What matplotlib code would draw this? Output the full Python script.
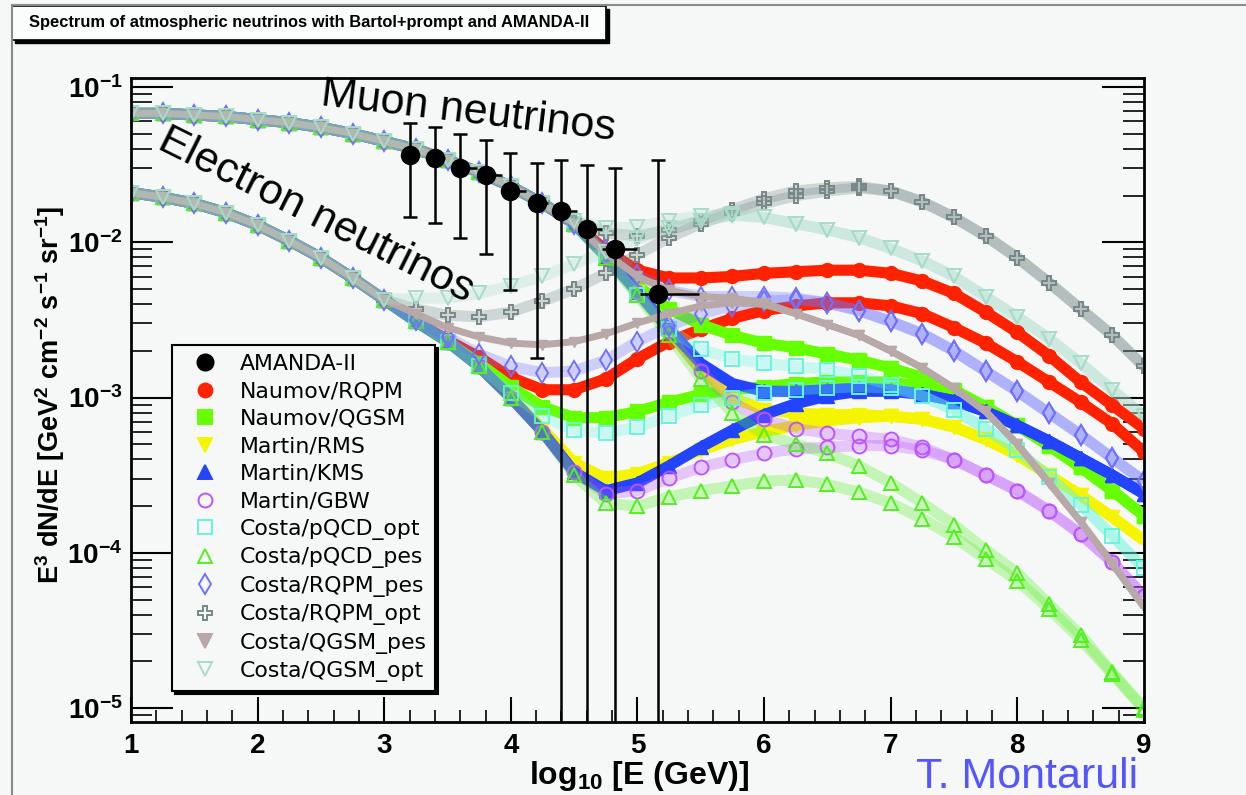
import numpy as np
import matplotlib
matplotlib.use("Agg")
import matplotlib.pyplot as plt
from matplotlib.lines import Line2D
from matplotlib.patches import Rectangle
from matplotlib.ticker import FixedLocator, MultipleLocator, LogLocator, NullFormatter

plt.rcParams['font.family'] = ['Liberation Sans', 'DejaVu Sans']
plt.rcParams['mathtext.fontset'] = 'custom'
plt.rcParams['mathtext.rm'] = 'Liberation Sans'
plt.rcParams['mathtext.bf'] = 'Liberation Sans:bold'
plt.rcParams['mathtext.it'] = 'Liberation Sans:italic'

# log10(E/GeV) grids: shared conventional part, then the part where the models split
x_low = [1.0, 1.25, 1.5, 1.75, 2.0, 2.25, 2.5, 2.75, 3.0]
x_hi = [3.25, 3.5, 3.75, 4.0, 4.25, 4.5, 4.75, 5.0, 5.25, 5.5, 5.75, 6.0,
        6.25, 6.5, 6.75, 7.0, 7.25, 7.5, 7.75, 8.0, 8.25, 8.5, 8.75, 9.0]

# log10 of E^3 dN/dE
conv_mu_low = [-1.17, -1.17, -1.18, -1.19, -1.21, -1.23, -1.26, -1.30, -1.35]
conv_e_low = [-1.68, -1.71, -1.75, -1.81, -1.89, -1.99, -2.10, -2.23, -2.37]

naumov_rqpm_mu = [-1.40, -1.47, -1.55, -1.64, -1.75, -1.88, -2.05, -2.18, -2.23, -2.23, -2.22, -2.20,
                  -2.19, -2.18, -2.18, -2.20, -2.25, -2.33, -2.45, -2.58, -2.73, -2.90, -3.05, -3.20]
naumov_rqpm_e = [-2.51, -2.63, -2.74, -2.87, -2.95, -2.95, -2.88, -2.75, -2.64, -2.56, -2.49, -2.44,
                 -2.41, -2.39, -2.39, -2.41, -2.46, -2.55, -2.65, -2.77, -2.90, -3.03, -3.17, -3.35]
naumov_qgsm_mu = [-1.40, -1.47, -1.55, -1.64, -1.75, -1.88, -2.08, -2.28, -2.43, -2.53, -2.60, -2.65,
                  -2.68, -2.72, -2.76, -2.81, -2.87, -2.95, -3.06, -3.18, -3.31, -3.45, -3.60, -3.76]
naumov_qgsm_e = [-2.51, -2.64, -2.78, -2.93, -3.06, -3.13, -3.13, -3.09, -3.03, -2.98, -2.95, -2.93,
                 -2.91, -2.90, -2.90, -2.90, -2.93, -2.98, -3.06, -3.18, -3.31, -3.45, -3.60, -3.76]
martin_rms_mu = [-1.40, -1.47, -1.55, -1.64, -1.75, -1.88, -2.09, -2.32, -2.57, -2.82, -3.00, -3.08,
                 -3.10, -3.11, -3.11, -3.12, -3.14, -3.19, -3.27, -3.37, -3.50, -3.63, -3.77, -3.92]
martin_rms_e = [-2.51, -2.64, -2.80, -3.00, -3.20, -3.42, -3.52, -3.49, -3.42, -3.34, -3.27, -3.22,
                -3.18, -3.15, -3.13, -3.12, -3.14, -3.19, -3.27, -3.37, -3.50, -3.63, -3.77, -3.92]
martin_kms_mu = [-1.40, -1.47, -1.55, -1.64, -1.75, -1.88, -2.09, -2.32, -2.56, -2.78, -2.91, -2.96,
                 -2.96, -2.95, -2.94, -2.95, -2.98, -3.02, -3.09, -3.18, -3.28, -3.39, -3.50, -3.62]
martin_kms_e = [-2.51, -2.64, -2.80, -3.00, -3.22, -3.48, -3.60, -3.55, -3.44, -3.32, -3.21, -3.11,
                -3.04, -2.99, -2.96, -2.96, -2.98, -3.02, -3.09, -3.18, -3.28, -3.39, -3.50, -3.62]
martin_gbw_mu = [-1.40, -1.47, -1.55, -1.64, -1.75, -1.88, -2.09, -2.32, -2.57, -2.83, -3.03, -3.14,
                 -3.20, -3.23, -3.25, -3.27, -3.32, -3.40, -3.50, -3.60, -3.73, -3.88, -4.06, -4.28]
martin_gbw_e = [-2.51, -2.64, -2.80, -3.00, -3.22, -3.48, -3.62, -3.60, -3.52, -3.45, -3.40, -3.36,
                -3.33, -3.32, -3.31, -3.31, -3.34, -3.40, -3.50, -3.60, -3.73, -3.88, -4.06, -4.28]
costa_pqcd_opt_mu = [-1.40, -1.47, -1.55, -1.64, -1.75, -1.88, -2.10, -2.34, -2.56, -2.69, -2.75, -2.78,
                     -2.80, -2.82, -2.86, -2.92, -2.99, -3.08, -3.20, -3.34, -3.51, -3.69, -3.89, -4.10]
costa_pqcd_opt_e = [-2.51, -2.64, -2.80, -2.97, -3.12, -3.21, -3.23, -3.19, -3.12, -3.05, -3.00, -2.97,
                    -2.95, -2.94, -2.93, -2.94, -2.99, -3.08, -3.20, -3.34, -3.51, -3.69, -3.89, -4.10]
costa_pqcd_pes_mu = [-1.40, -1.47, -1.55, -1.64, -1.75, -1.88, -2.10, -2.34, -2.60, -2.88, -3.10, -3.24,
                     -3.30, -3.36, -3.44, -3.55, -3.68, -3.82, -3.98, -4.13, -4.33, -4.53, -4.77, -5.00]
costa_pqcd_pes_e = [-2.51, -2.64, -2.80, -3.00, -3.22, -3.50, -3.68, -3.70, -3.64, -3.60, -3.57, -3.54,
                    -3.53, -3.56, -3.61, -3.68, -3.78, -3.90, -4.04, -4.18, -4.36, -4.56, -4.78, -5.01]
costa_rqpm_pes_mu = [-1.40, -1.47, -1.55, -1.64, -1.75, -1.88, -2.05, -2.21, -2.31, -2.35, -2.35, -2.35,
                     -2.36, -2.39, -2.44, -2.51, -2.59, -2.70, -2.83, -2.96, -3.10, -3.24, -3.39, -3.54]
costa_rqpm_pes_e = [-2.50, -2.61, -2.72, -2.80, -2.84, -2.83, -2.76, -2.64, -2.54, -2.46, -2.41, -2.38,
                    -2.37, -2.39, -2.44, -2.51, -2.59, -2.70, -2.83, -2.96, -3.10, -3.24, -3.39, -3.54]
costa_rqpm_opt_mu = [-1.40, -1.47, -1.55, -1.64, -1.75, -1.86, -1.94, -1.96, -1.92, -1.86, -1.79, -1.72,
                     -1.67, -1.65, -1.64, -1.67, -1.74, -1.84, -1.96, -2.10, -2.26, -2.43, -2.60, -2.80]
costa_rqpm_opt_e = [-2.43, -2.47, -2.48, -2.45, -2.38, -2.30, -2.20, -2.08, -1.97, -1.88, -1.81, -1.75,
                    -1.70, -1.67, -1.65, -1.67, -1.74, -1.84, -1.96, -2.10, -2.26, -2.43, -2.60, -2.80]
costa_qgsm_pes_mu = [-1.40, -1.47, -1.55, -1.64, -1.75, -1.88, -2.07, -2.22, -2.31, -2.35, -2.36, -2.39,
                     -2.46, -2.53, -2.60, -2.70, -2.81, -2.94, -3.09, -3.30, -3.55, -3.80, -4.07, -4.35]
costa_qgsm_pes_e = [-2.46, -2.55, -2.61, -2.65, -2.66, -2.64, -2.59, -2.52, -2.46, -2.41, -2.39, -2.40,
                    -2.46, -2.53, -2.60, -2.70, -2.81, -2.94, -3.09, -3.30, -3.55, -3.80, -4.07, -4.35]
costa_qgsm_opt_mu = [-1.40, -1.47, -1.55, -1.64, -1.75, -1.86, -1.91, -1.90, -1.86, -1.83, -1.82, -1.84,
                     -1.88, -1.92, -1.97, -2.04, -2.12, -2.22, -2.35, -2.48, -2.62, -2.78, -2.95, -3.12]
costa_qgsm_opt_e = [-2.36, -2.36, -2.33, -2.28, -2.22, -2.14, -2.06, -1.98, -1.91, -1.86, -1.83, -1.84,
                    -1.88, -1.92, -1.97, -2.04, -2.12, -2.22, -2.35, -2.48, -2.62, -2.78, -2.95, -3.12]

# AMANDA-II unfolded points
amanda_x = [3.20, 3.40, 3.60, 3.80, 3.99, 4.21, 4.40, 4.60, 4.82, 5.16]
amanda_y = [3.65e-2, 3.49e-2, 3.01e-2, 2.71e-2, 2.14e-2, 1.79e-2, 1.59e-2, 1.22e-2, 9.0e-3, 4.65e-3]
amanda_up = [5.86e-2, 5.52e-2, 4.97e-2, 4.56e-2, 3.76e-2, 3.24e-2, 3.39e-2, 3.15e-2, 3.01e-2, 3.39e-2]
amanda_dn = [1.46e-2, 1.33e-2, 1.06e-2, 8.4e-3, 4.9e-3, 1.8e-3, 1e-9, 1e-9, 1e-9, 1e-9]
amanda_xl = [0.05, 0.05, 0.05, 0.05, 0.05, 0.05, 0.05, 0.05, 0.10, 0.14]
amanda_xr = [0.05, 0.08, 0.13, 0.13, 0.13, 0.08, 0.12, 0.12, 0.18, 0.33]

models = ['Naumov/RQPM', 'Naumov/QGSM', 'Martin/RMS', 'Martin/KMS', 'Martin/GBW',
          'Costa/pQCD_opt', 'Costa/pQCD_pes', 'Costa/RQPM_pes', 'Costa/RQPM_opt',
          'Costa/QGSM_pes', 'Costa/QGSM_opt']
model_mu = [naumov_rqpm_mu, naumov_qgsm_mu, martin_rms_mu, martin_kms_mu, martin_gbw_mu,
            costa_pqcd_opt_mu, costa_pqcd_pes_mu, costa_rqpm_pes_mu, costa_rqpm_opt_mu,
            costa_qgsm_pes_mu, costa_qgsm_opt_mu]
model_e = [naumov_rqpm_e, naumov_qgsm_e, martin_rms_e, martin_kms_e, martin_gbw_e,
           costa_pqcd_opt_e, costa_pqcd_pes_e, costa_rqpm_pes_e, costa_rqpm_opt_e,
           costa_qgsm_pes_e, costa_qgsm_opt_e]
colors = ['#ff2200', '#66ff00', '#f5f500', '#2244ff', '#bb55ff',
          '#66f5dd', '#55ee22', '#7070ff', '#788888', '#b8a8a8', '#a8dcc8']
markers = ['o', 's', 'v', '^', 'o', 's', '^', 'd', 'P', 'v', 'v']
filled = [True, True, True, True, False, False, False, False, False, True, False]
band_w = [8, 8, 8, 8, 8, 8, 8, 8, 8, 5, 8]
mark_s = [10, 10, 10, 10, 10, 10, 10, 10, 10, 7, 10]

bg = '#f6f8f8'
fig = plt.figure(figsize=(12.46, 7.95), dpi=100, facecolor=bg)
ax = fig.add_axes([0.1051, 0.0918, 0.8130, 0.8101], facecolor=bg)

x_all = np.concatenate([x_low, x_hi])
for mu, e, c, m, f, lw, ms in zip(model_mu, model_e, colors, markers, filled, band_w, mark_s):
    for low, hi in ((conv_mu_low, mu), (conv_e_low, e)):
        y = 10.0 ** np.concatenate([low, hi])
        if f:
            ax.plot(x_all, y, '-', color=c, lw=lw, solid_capstyle='butt', zorder=2)
            ax.plot(x_all, y, ls='none', marker=m, ms=ms, mfc=c, mec=c, zorder=2)
        else:
            ax.plot(x_all, y, '-', color=c, lw=lw, alpha=0.3, solid_capstyle='butt', zorder=2)
            ax.plot(x_all, y, ls='none', marker=m, ms=ms, mfc='none', mec=c, mew=1.4, zorder=2)

ay = np.array(amanda_y)
ax.errorbar(amanda_x, ay, yerr=[ay - np.array(amanda_dn), np.array(amanda_up) - ay],
            fmt='none', ecolor='black', elinewidth=1.8, capsize=5, capthick=1.8, zorder=5)
ax.errorbar(amanda_x, ay, xerr=[amanda_xl, amanda_xr], fmt='o', color='black',
            ms=13, elinewidth=1.8, capsize=0, zorder=6)

ax.set_xlim(1, 9)
ax.set_yscale('log')
ax.set_ylim(10 ** -5.09, 10 ** -0.942)

ax.set_xticks(range(1, 10))
ax.set_xticklabels([str(i) for i in range(1, 10)], fontsize=20, fontweight='bold')
ax.xaxis.set_minor_locator(MultipleLocator(0.2))
ax.yaxis.set_major_locator(FixedLocator([1e-5, 1e-4, 1e-3, 1e-2, 1e-1]))
ax.set_yticklabels([r'$\mathbf{10^{-5}}$', r'$\mathbf{10^{-4}}$', r'$\mathbf{10^{-3}}$',
                    r'$\mathbf{10^{-2}}$', r'$\mathbf{10^{-1}}$'], fontsize=20)
ax.yaxis.set_minor_locator(LogLocator(base=10, subs=np.arange(2, 10), numticks=20))
ax.yaxis.set_minor_formatter(NullFormatter())
ax.tick_params(axis='x', which='major', direction='in', length=18, width=1.5, pad=8, top=False)
ax.tick_params(axis='x', which='minor', direction='in', length=9, width=1.2, top=False)
ax.tick_params(axis='y', which='major', direction='in', length=30, width=1.5, pad=6, right=True)
ax.tick_params(axis='y', which='minor', direction='in', length=15, width=1.2, right=True)
for s in ax.spines.values():
    s.set_linewidth(2)

ax.set_xlabel(r'$\mathbf{log_{10}\ [E\ (GeV)]}$', fontsize=23)
ax.xaxis.set_label_coords(0.502, -0.057)
ax.set_ylabel(r'$\mathbf{E^{3}\ dN/dE\ [GeV^{2}\ cm^{-2}\ s^{-1}\ sr^{-1}]}$', fontsize=19.5)
ax.yaxis.set_label_coords(-0.08, 0.508)
ax.yaxis.label.set_va('center')

ax.text(2.49, 10 ** -1.116, 'Muon neutrinos', fontsize=31, rotation=-6.8,
        rotation_mode='anchor', ha='left', va='baseline', zorder=7)
ax.text(1.197, 10 ** -1.393, 'Electron neutrinos', fontsize=31, rotation=-26.5,
        rotation_mode='anchor', ha='left', va='baseline', zorder=7)

handles = [Line2D([], [], ls='none', marker='o', ms=12, color='black')]
for c, m, f in zip(colors, markers, filled):
    handles.append(Line2D([], [], ls='none', marker=m, ms=10, mec=c,
                          mfc=c if f else 'none', mew=1.4))
leg = ax.legend(handles, ['AMANDA-II'] + models, loc='upper left',
                bbox_to_anchor=(0.041, 0.585), borderaxespad=0,
                prop={'family': 'DejaVu Sans', 'size': 15.8}, frameon=True, fancybox=False,
                edgecolor='black', facecolor=bg, framealpha=1, labelspacing=0.34,
                borderpad=0.4, handlelength=2.2, handletextpad=0.45,
                shadow={'facecolor': 'black', 'edgecolor': 'black', 'alpha': 1})
leg.get_frame().set_linewidth(1.5)
leg.set_zorder(8)

# canvas border and title box
fig.add_artist(Line2D([12 / 1246, 12 / 1246], [0, 1 - 5 / 795], transform=fig.transFigure,
                      color='#8a8a8a', lw=1.5))
fig.add_artist(Line2D([12 / 1246, 1], [1 - 5 / 795, 1 - 5 / 795], transform=fig.transFigure,
                      color='#8a8a8a', lw=1.5))
fig.add_artist(Rectangle((15 / 1246, 1 - 43 / 795), 594 / 1246, 34 / 795,
                         transform=fig.transFigure, facecolor='black', edgecolor='black'))
fig.add_artist(Rectangle((12 / 1246, 1 - 40 / 795), 594 / 1246, 34 / 795,
                         transform=fig.transFigure, facecolor='#fbfdfd', edgecolor='black', lw=1.2))
fig.text(29 / 1246, 1 - 23 / 795, 'Spectrum of atmospheric neutrinos with Bartol+prompt and AMANDA-II',
         fontsize=11.9, fontweight='bold', va='center', ha='left')

fig.text(1138 / 1246, 7 / 795, 'T. Montaruli', fontsize=31, color='#5555ff',
         ha='right', va='baseline')

fig.savefig('out.png', dpi=100, facecolor=bg)
